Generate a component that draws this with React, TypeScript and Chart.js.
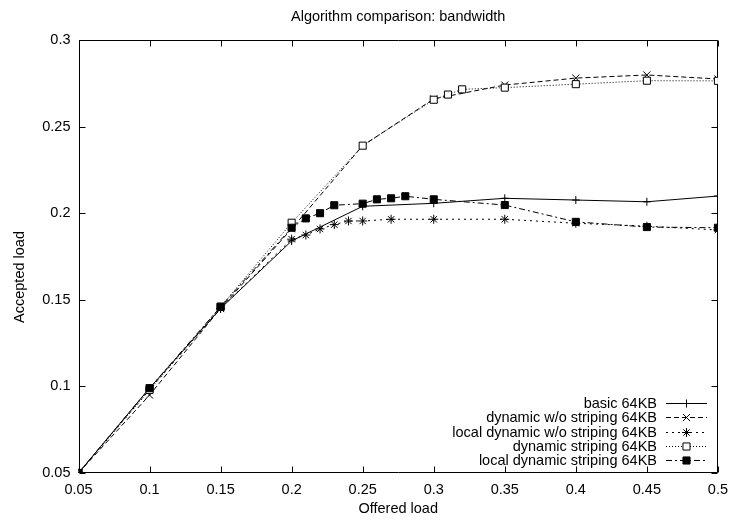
import React, { useEffect, useRef } from "react";
import { Chart, registerables } from "chart.js";
import { drawPoint } from "chart.js/helpers";

Chart.register(...registerables);

const TITLE = "Algorithm comparison: bandwidth";
const X_LABEL = "Offered load";
const Y_LABEL = "Accepted load";

const seriesNames = [
  "basic 64KB",
  "dynamic w/o striping 64KB",
  "local dynamic w/o striping 64KB",
  "dynamic striping 64KB",
  "local dynamic striping 64KB",
];

const basicX = [0.05, 0.1, 0.15, 0.2, 0.25, 0.3, 0.35, 0.4, 0.45, 0.5];
const basicY = [0.05, 0.099, 0.145, 0.184, 0.204, 0.2057, 0.2086, 0.2076, 0.2066, 0.2099];

const dynNoStripeX = [0.05, 0.1, 0.15, 0.2, 0.25, 0.3, 0.35, 0.4, 0.45, 0.5];
const dynNoStripeY = [0.05, 0.095, 0.145, 0.191, 0.239, 0.266, 0.274, 0.278, 0.2798, 0.2775];

const localDynNoStripeX = [0.05, 0.1, 0.15, 0.2, 0.21, 0.22, 0.23, 0.24, 0.25, 0.27, 0.3, 0.35, 0.4, 0.45, 0.5];
const localDynNoStripeY = [0.05, 0.098, 0.145, 0.185, 0.1874, 0.1909, 0.1934, 0.1955, 0.1955, 0.1965, 0.1965, 0.1965, 0.1942, 0.1925, 0.1903];

const dynStripeX = [0.05, 0.1, 0.15, 0.2, 0.25, 0.3, 0.31, 0.32, 0.35, 0.4, 0.45, 0.5];
const dynStripeY = [0.05, 0.098, 0.146, 0.1945, 0.239, 0.2655, 0.2685, 0.2715, 0.2725, 0.2745, 0.2765, 0.2764];

const localDynStripeX = [0.05, 0.1, 0.15, 0.2, 0.21, 0.22, 0.23, 0.25, 0.26, 0.27, 0.28, 0.3, 0.35, 0.4, 0.45, 0.5];
const localDynStripeY = [0.05, 0.099, 0.146, 0.1916, 0.197, 0.2, 0.2046, 0.2055, 0.208, 0.2086, 0.2098, 0.208, 0.2047, 0.195, 0.192, 0.1916];

const X_MIN = 0.05;
const X_MAX = 0.5;
const Y_MIN = 0.05;
const Y_MAX = 0.3;
const STEP = 0.05;

const FONT_FAMILY = "'Liberation Sans', Arial, Helvetica, sans-serif";
const FONT_SIZE = 14.5;

const seriesStyles = [
  { dash: [] as number[], pointStyle: "cross", radius: 4, fill: "#000" },
  { dash: [5, 3], pointStyle: "crossRot", radius: 5, fill: "#000" },
  { dash: [2, 4], pointStyle: "star", radius: 4.5, fill: "#000" },
  { dash: [1, 2], pointStyle: "rect", radius: 5, fill: "#fff" },
  { dash: [6, 3, 2, 3], pointStyle: "rect", radius: 5, fill: "#000" },
];

const seriesData = [
  [basicX, basicY],
  [dynNoStripeX, dynNoStripeY],
  [localDynNoStripeX, localDynNoStripeY],
  [dynStripeX, dynStripeY],
  [localDynStripeX, localDynStripeY],
];

const fmt = (v: number) => String(Number(Number(v).toFixed(2)));

const decorPlugin = {
  id: "decor",
  beforeDraw(chart: any) {
    const ctx = chart.ctx;
    ctx.save();
    ctx.fillStyle = "#fff";
    ctx.fillRect(0, 0, chart.width, chart.height);
    ctx.restore();
  },
  beforeDatasetsDraw(chart: any) {
    const ctx = chart.ctx;
    const a = chart.chartArea;
    const xs = chart.scales.x;
    const ys = chart.scales.y;
    const L = Math.round(a.left) + 0.5;
    const R = Math.round(a.right) - 0.5;
    const T = Math.round(a.top) + 0.5;
    const B = Math.round(a.bottom) - 0.5;
    const tl = 6;
    ctx.save();
    ctx.strokeStyle = "#000";
    ctx.lineWidth = 1;
    ctx.beginPath();
    ctx.rect(L, T, R - L, B - T);
    for (const t of xs.ticks) {
      const px = Math.round(xs.getPixelForValue(t.value)) + 0.5;
      ctx.moveTo(px, B);
      ctx.lineTo(px, B - tl);
      ctx.moveTo(px, T);
      ctx.lineTo(px, T + tl);
    }
    for (const t of ys.ticks) {
      const py = Math.round(ys.getPixelForValue(t.value)) + 0.5;
      ctx.moveTo(L, py);
      ctx.lineTo(L + tl, py);
      ctx.moveTo(R, py);
      ctx.lineTo(R - tl, py);
    }
    ctx.stroke();

    ctx.fillStyle = "#000";
    ctx.font = `${FONT_SIZE}px ${FONT_FAMILY}`;
    ctx.textAlign = "center";
    ctx.textBaseline = "middle";
    ctx.fillText(TITLE, (a.left + a.right) / 2, 17);
    ctx.fillText(X_LABEL, (a.left + a.right) / 2, 509);
    ctx.save();
    ctx.translate(19.5, 277);
    ctx.rotate(-Math.PI / 2);
    ctx.fillText(Y_LABEL, 0, 0);
    ctx.restore();
    ctx.restore();
  },
  afterDraw(chart: any) {
    const ctx = chart.ctx;
    const textRight = 657;
    const lineStart = 666;
    const lineEnd = 707;
    const markX = 686.5;
    const rowY0 = 402.7;
    const rowGap = 14.4;
    ctx.save();
    ctx.font = `${FONT_SIZE}px ${FONT_FAMILY}`;
    ctx.textAlign = "right";
    ctx.textBaseline = "middle";
    chart.data.datasets.forEach((ds: any, i: number) => {
      const y = Math.round(rowY0 + i * rowGap) + 0.5;
      ctx.fillStyle = "#000";
      ctx.fillText(ds.label, textRight, y);
      ctx.strokeStyle = "#000";
      ctx.lineWidth = 1;
      ctx.setLineDash(seriesStyles[i].dash);
      ctx.beginPath();
      ctx.moveTo(lineStart, y);
      ctx.lineTo(lineEnd, y);
      ctx.stroke();
      ctx.setLineDash([]);
      ctx.fillStyle = seriesStyles[i].fill;
      ctx.strokeStyle = "#000";
      ctx.lineWidth = 1;
      drawPoint(ctx, { pointStyle: seriesStyles[i].pointStyle as any, radius: seriesStyles[i].radius, rotation: 0, borderWidth: 1 }, markX, y);
    });
    ctx.restore();
  },
};

export default function App() {
  const ref = useRef<HTMLCanvasElement | null>(null);

  useEffect(() => {
    document.body.style.margin = "0";
    const canvas = ref.current;
    if (!canvas) return;
    const datasets = seriesData.map(([xs, ys], i) => ({
      label: seriesNames[i],
      data: xs.map((x, j) => ({ x, y: ys[j] })),
      borderColor: "#000",
      borderWidth: 1,
      borderDash: seriesStyles[i].dash,
      pointStyle: seriesStyles[i].pointStyle as any,
      pointRadius: seriesStyles[i].radius,
      pointBorderColor: "#000",
      pointBackgroundColor: seriesStyles[i].fill,
      pointBorderWidth: 1,
      fill: false,
      tension: 0,
      order: 5 - i,
    }));

    const tickFont = { family: FONT_FAMILY, size: FONT_SIZE };
    const chart = new Chart(canvas, {
      type: "line",
      data: { datasets },
      options: {
        responsive: false,
        animation: false,
        devicePixelRatio: 1,
        layout: { padding: { top: 40, right: 11.5, left: 0, bottom: 0 } },
        plugins: {
          legend: { display: false },
          title: { display: false },
          tooltip: { enabled: false },
        },
        scales: {
          x: {
            type: "linear",
            min: X_MIN,
            max: X_MAX,
            ticks: {
              stepSize: STEP,
              callback: (v: any) => fmt(v),
              font: tickFont,
              color: "#000",
              padding: 8,
              maxRotation: 0,
              autoSkip: false,
            },
            grid: { display: false, drawTicks: false },
            border: { display: false },
            afterFit: (s: any) => {
              s.height = 48;
            },
          },
          y: {
            type: "linear",
            min: Y_MIN,
            max: Y_MAX,
            ticks: {
              stepSize: STEP,
              callback: (v: any) => fmt(v),
              font: tickFont,
              color: "#000",
              padding: 8,
              autoSkip: false,
            },
            grid: { display: false, drawTicks: false },
            border: { display: false },
            afterFit: (s: any) => {
              s.width = 78.5;
            },
          },
        },
      },
      plugins: [decorPlugin],
    } as any);
    return () => chart.destroy();
  }, []);

  return <canvas ref={ref} width={736} height={521} style={{ display: "block", width: 736, height: 521 }} />;
}
